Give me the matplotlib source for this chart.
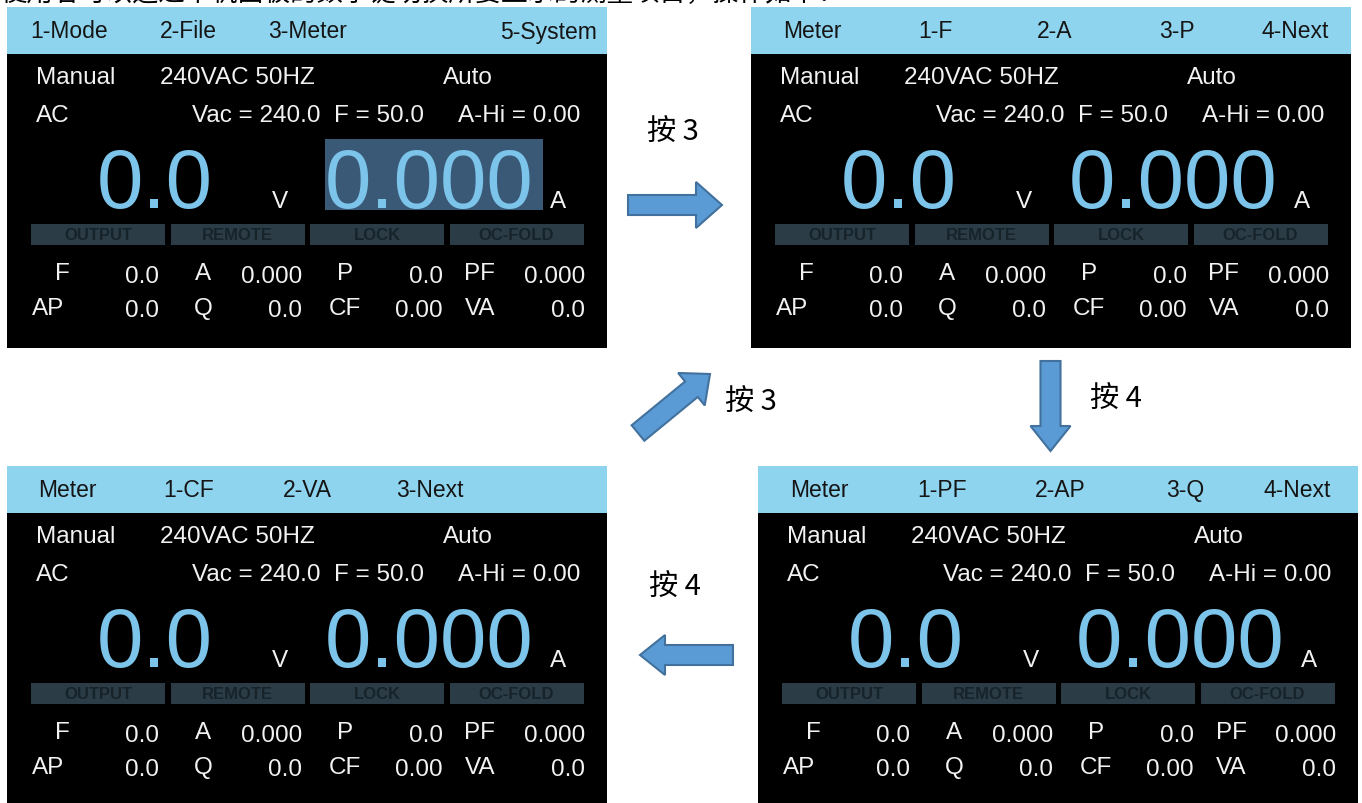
import matplotlib
matplotlib.use("Agg")
import matplotlib.pyplot as plt
from matplotlib.patches import Rectangle, FancyArrow

# ---- content --------------------------------------------------------------
headers_tl = ["1-Mode", "2-File", "3-Meter", "5-System"]
headers_tr = ["Meter", "1-F", "2-A", "3-P", "4-Next"]
headers_bl = ["Meter", "1-CF", "2-VA", "3-Next"]
headers_br = ["Meter", "1-PF", "2-AP", "3-Q", "4-Next"]

status_labels = ["OUTPUT", "REMOTE", "LOCK", "OC-FOLD"]
row1_names = ["F", "A", "P", "PF"]
row1_values = ["0.0", "0.000", "0.0", "0.000"]
row2_names = ["AP", "Q", "CF", "VA"]
row2_values = ["0.0", "0.0", "0.00", "0.0"]

volt_reading = "0.0"
amp_reading = "0.000"
press_labels = ["按 3", "按 3", "按 4", "按 4"]
top_line = "使用者可以透过本机面板的数字键切换所要显示的测量项目，操作如下："

# ---- style ----------------------------------------------------------------
HEADER_BG = "#8fd4ee"
DIGIT = "#7cc4ea"
TEXT = "#f2f2f2"
BAR_BG = "#2b3c46"
BAR_TX = "#17232a"
HILITE = "#3a5977"
ARROW_FC = "#5b9bd5"
ARROW_EC = "#41719c"
FAM = ["Liberation Sans", "DejaVu Sans"]
SMALL = dict(family=FAM, fontsize=17.5)
HEAD = dict(family=FAM, fontsize=16.5)


def draw_screen(ax, x0, y0, headers, header_x, highlight=False, h=341):
    ax.add_patch(Rectangle((x0, y0), 600, h, fc="black", ec="none"))
    ax.add_patch(Rectangle((x0, y0), 600, 47, fc=HEADER_BG, ec="none"))
    for lab, hx in zip(headers, header_x):
        ha = "left"
        if hx < 0:
            hx, ha = -hx, "right"
        ax.text(x0 + hx, y0 + 24, lab, color="#151515", ha=ha, va="center", **HEAD)

    ax.text(x0 + 29, y0 + 70, "Manual", color=TEXT, va="center", **SMALL)
    ax.text(x0 + 153, y0 + 70, "240VAC 50HZ", color=TEXT, va="center", **SMALL)
    ax.text(x0 + 436, y0 + 70, "Auto", color=TEXT, va="center", **SMALL)
    ax.text(x0 + 29, y0 + 108, "AC", color=TEXT, va="center", **SMALL)
    ax.text(x0 + 185, y0 + 108, "Vac = 240.0  F = 50.0", color=TEXT, va="center", **SMALL)
    ax.text(x0 + 451, y0 + 108, "A-Hi = 0.00", color=TEXT, va="center", **SMALL)

    if highlight:
        ax.add_patch(Rectangle((x0 + 318, y0 + 132), 218, 71, fc=HILITE, ec="none"))
    big = dict(family=FAM, fontsize=60, color=DIGIT, va="baseline")
    ax.text(x0 + 148, y0 + 200, volt_reading, ha="center", **big)
    ax.text(x0 + 422, y0 + 200, amp_reading, ha="center", **big)
    ax.text(x0 + 273, y0 + 200, "V", color=TEXT, ha="center", va="baseline", **SMALL)
    ax.text(x0 + 551, y0 + 200, "A", color=TEXT, ha="center", va="baseline", **SMALL)

    for i, lab in enumerate(status_labels):
        bx = x0 + 24 + i * 139.5
        ax.add_patch(Rectangle((bx, y0 + 217), 134, 21, fc=BAR_BG, ec="none"))
        ax.text(bx + 67, y0 + 228, lab, color=BAR_TX, ha="center", va="center",
                family=FAM, fontsize=12, fontweight="bold")

    name_x = [55, 196, 338, 473]
    val_x = [152, 295, 436, 578]
    for i in range(4):
        ax.text(x0 + name_x[i], y0 + 266, row1_names[i], color=TEXT, ha="center",
                va="center", **SMALL)
        ax.text(x0 + val_x[i], y0 + 269, row1_values[i], color=TEXT, ha="right",
                va="center", **SMALL)
        ax.text(x0 + name_x[i] - (14 if i == 0 else 0), y0 + 301, row2_names[i],
                color=TEXT, ha="center", va="center", **SMALL)
        ax.text(x0 + val_x[i], y0 + 303, row2_values[i], color=TEXT, ha="right",
                va="center", **SMALL)


fig = plt.figure(figsize=(13.62, 8.04), dpi=100)
ax = fig.add_axes([0, 0, 1, 1])
ax.set_xlim(0, 1362)
ax.set_ylim(804, 0)
ax.axis("off")

# first line of the page text, mostly cut off by the top edge
ax.text(0, -7, top_line, color="black", ha="left", va="center", fontsize=19,
        family=["Noto Sans CJK SC", "DejaVu Sans"])

draw_screen(ax, 7, 8, headers_tl, [23, 153, 261, -590], highlight=True)
draw_screen(ax, 751, 8, headers_tr, [32, 167, 286, 408, 510])
draw_screen(ax, 7, 467, headers_bl, [31, 156, 276, 389])
draw_screen(ax, 758, 467, headers_br, [32, 159, 277, 408, 505])

arrow_kw = dict(length_includes_head=True, fc=ARROW_FC, ec=ARROW_EC, lw=1.5)
ax.add_patch(FancyArrow(628, 206, 94, 0, width=20, head_width=46, head_length=26, **arrow_kw))
ax.add_patch(FancyArrow(638, 434, 72, -59, width=20, head_width=42, head_length=24, **arrow_kw))
ax.add_patch(FancyArrow(1050.5, 362, 0, 90, width=20, head_width=40, head_length=25, **arrow_kw))
ax.add_patch(FancyArrow(733, 656, -93, 0, width=20, head_width=40, head_length=25, **arrow_kw))

cjk = dict(family=["Noto Sans CJK SC", "DejaVu Sans"], fontsize=21, color="black",
           va="center", ha="center")
ax.text(673, 133, press_labels[0], **cjk)
ax.text(751, 403, press_labels[1], **cjk)
ax.text(1116, 400, press_labels[2], **cjk)
ax.text(675, 588, press_labels[3], **cjk)

fig.savefig("out.png", dpi=100, facecolor="white")
